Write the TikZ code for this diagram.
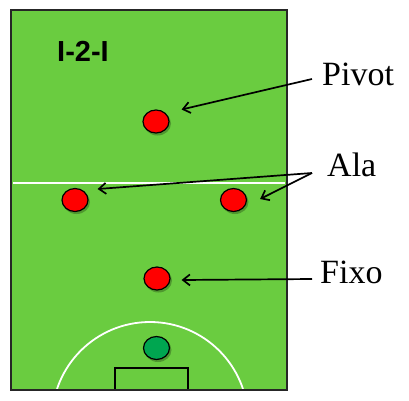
\documentclass[tikz,border=0pt]{standalone}
\usepackage{fontspec}
\setmainfont{Liberation Serif}
\newfontfamily\titlefont{Liberation Sans}
\usetikzlibrary{shapes.geometric,arrows.meta}
\definecolor{pitch}{RGB}{106,204,64}
\definecolor{keeper}{RGB}{0,166,80}
\definecolor{player}{RGB}{255,0,0}
\begin{document}
\begin{tikzpicture}[x=1pt,y=-1pt,
  plr/.style={ellipse,draw=black,line width=1.2pt,fill=player,minimum width=26pt,minimum height=23pt,inner sep=0pt},
  gk/.style={plr,fill=keeper},
  lbl/.style={anchor=base west,inner sep=0pt,font=\fontsize{34}{36}\selectfont},
  arr/.style={line width=1.7pt,-{Straight Barb[length=7pt,width=11pt,line width=1.7pt]}},
  chalk/.style={white,line width=1.3pt}]
\useasboundingbox[fill=white] (0,0) rectangle (409,400);
% field
\fill[pitch] (11,10) rectangle (287,390);
\begin{scope}
  \clip (11,10) rectangle (287,390);
  \draw[chalk,line width=1.8pt] (150,420) circle[radius=98];
\end{scope}
\draw[chalk] (13,183) -- (285,183);
\draw[black,line width=1.2pt] (115,390) |- (188,368) -- (188,390);
\draw[black!85,line width=1.5pt] (11,10) rectangle (287,390);
% title
\node[inner sep=0pt,font=\titlefont\bfseries\fontsize{29}{30}\selectfont] (title) at (83,51) {I-2-I};
% shadows
\foreach \p in {(156,121.5),(75,200),(233.5,200),(157,278.5),(156.5,348)}
  \fill[black,opacity=0.25] \p ++(1.5,2) ellipse[x radius=13.5,y radius=12];
% players
\node[plr] (pivot) at (156,121.5) {};
\node[plr] (alaL) at (75,200) {};
\node[plr] (alaR) at (233.5,200) {};
\node[plr] (fixo) at (157,278.5) {};
\node[gk] (goleiro) at (156.5,348) {};
% labels
\node[lbl] (pivotlbl) at (322,85) {Pivot};
\node[lbl] (alalbl) at (327,176) {Ala};
\node[lbl] (fixolbl) at (320,283) {Fixo};
% arrow roots
\coordinate (pA) at (312,79);
\coordinate (aA) at (312,173);
\coordinate (fA) at (312,279);
% arrows
\draw[arr] (pA) -- ([shift={(12,-12)}]pivot.east);
\draw[arr] (aA) -- ([shift={(9,-11)}]alaL.east);
\draw[arr] (aA) -- ([shift={(13,-1)}]alaR.east);
\draw[arr] (fA) -- ([shift={(11,1.5)}]fixo.east);
\end{tikzpicture}
\end{document}
